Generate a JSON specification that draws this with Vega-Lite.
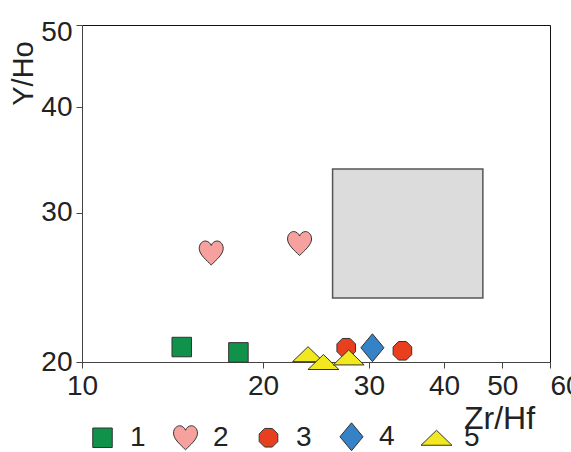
{
  "$schema": "https://vega.github.io/schema/vega-lite/v6.json",
  "autosize": "none",
  "width": 468,
  "height": 337,
  "padding": {"left": 82, "top": 25, "right": 21, "bottom": 90},
  "background": "white",
  "config": {
    "view": {"stroke": "#111", "strokeWidth": 1},
    "axis": {"grid": false, "domainColor": "#444", "tickColor": "#444", "tickSize": 6, "labelColor": "#222", "titleColor": "#222", "labelFont": "Liberation Sans", "labelFontSize": 28, "titleFont": "Liberation Sans", "titleFontWeight": "normal"}
  },
  "layer": [
    {
      "data": {"values": [{"x1": 26.1, "x2": 46.4, "y1": 23.8, "y2": 33.8}]},
      "mark": {"type": "rect", "fill": "#dcdcdc", "stroke": "#555", "strokeWidth": 1.5},
      "encoding": {
        "x": {"field": "x1", "type": "quantitative", "scale": {"type": "log", "domain": [10, 60], "nice": false}},
        "x2": {"field": "x2"},
        "y": {"field": "y1", "type": "quantitative", "scale": {"type": "log", "domain": [20, 50], "nice": false}},
        "y2": {"field": "y2"}
      }
    },
    {
      "data": {"values": [
        {"group": "1", "zrhf": 14.65, "yho": 20.83},
        {"group": "1", "zrhf": 18.2, "yho": 20.53},
        {"group": "2", "zrhf": 16.4, "yho": 26.9},
        {"group": "2", "zrhf": 23.0, "yho": 27.6},
        {"group": "3", "zrhf": 27.5, "yho": 20.79},
        {"group": "3", "zrhf": 34.1, "yho": 20.62},
        {"group": "4", "zrhf": 30.4, "yho": 20.79},
        {"group": "5", "zrhf": 23.76, "yho": 20.43},
        {"group": "5", "zrhf": 25.2, "yho": 20.0},
        {"group": "5", "zrhf": 27.76, "yho": 20.25}
      ]},
      "mark": {"type": "point", "filled": true, "opacity": 1, "size": 900, "stroke": "#333", "strokeWidth": 1},
      "encoding": {
        "x": {"field": "zrhf", "type": "quantitative", "scale": {"type": "log", "domain": [10, 60], "nice": false},
          "axis": {"values": [10, 20, 30, 40, 50, 60], "title": "Zr/Hf", "titleFontSize": 32, "titleX": 417, "titleY": 56, "titleAlign": "center", "titleBaseline": "middle", "labelPadding": 4,
            "labelAlign": {"condition": {"test": "datum.value == 60", "value": "left"}, "value": "center"}}},
        "y": {"field": "yho", "type": "quantitative", "scale": {"type": "log", "domain": [20, 50], "nice": false},
          "axis": {"values": [20, 30, 40, 50], "title": "Y/Ho", "titleFontSize": 29, "titleAngle": 270, "titleX": -59, "titleY": 48, "titleAlign": "center", "titleBaseline": "middle", "labelPadding": 4,
            "labelOffset": {"condition": {"test": "datum.value == 50", "value": 7}, "value": 0}}},
        "shape": {"field": "group", "type": "nominal",
          "scale": {"domain": ["1", "2", "3", "4", "5"], "range": [
            "M-0.65,-0.65L0.65,-0.65L0.65,0.65L-0.65,0.65Z",
            "M0,0.8C-0.3,0.5,-0.8,0.1,-0.8,-0.3C-0.8,-0.65,-0.55,-0.8,-0.4,-0.8C-0.2,-0.8,-0.05,-0.65,0,-0.5C0.05,-0.65,0.2,-0.8,0.4,-0.8C0.55,-0.8,0.8,-0.65,0.8,-0.3C0.8,0.1,0.3,0.5,0,0.8Z",
            "M-0.257,-0.62L0.257,-0.62L0.62,-0.257L0.62,0.257L0.257,0.62L-0.257,0.62L-0.62,0.257L-0.62,-0.257Z",
            "M0,-0.93L0.77,0L0,0.93L-0.77,0Z",
            "M-1.03,0.5L1.03,0.5L0,-0.5Z"
          ]},
          "legend": {"orient": "none", "legendX": 5, "legendY": 396, "direction": "horizontal", "columns": 5, "title": null, "padding": 0, "symbolSize": 900, "symbolStrokeColor": "#333", "symbolStrokeWidth": 1, "labelOffset": 12, "columnPadding": 24, "labelFont": "Liberation Sans", "labelFontSize": 28, "labelColor": "#222"}},
        "color": {"field": "group", "type": "nominal",
          "scale": {"domain": ["1", "2", "3", "4", "5"], "range": ["#11924a", "#f6a19e", "#e8401f", "#3682c7", "#f1e81f"]},
          "legend": {"orient": "none", "legendX": 5, "legendY": 396, "direction": "horizontal", "columns": 5, "title": null, "padding": 0, "symbolSize": 900, "symbolStrokeColor": "#333", "symbolStrokeWidth": 1, "labelOffset": 12, "columnPadding": 24, "labelFont": "Liberation Sans", "labelFontSize": 28, "labelColor": "#222"}}
      }
    }
  ]
}
